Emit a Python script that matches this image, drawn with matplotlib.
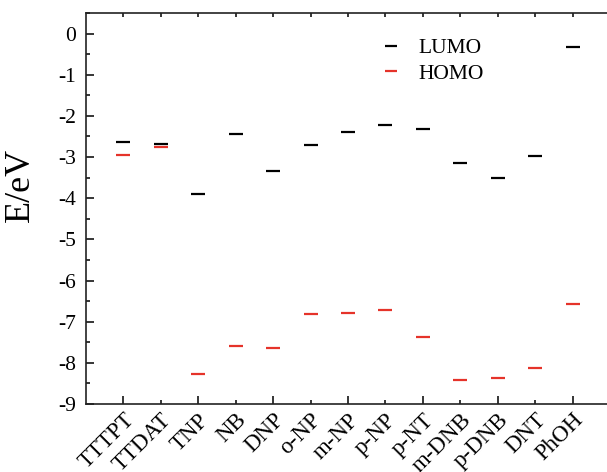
import matplotlib
matplotlib.use("Agg")
import matplotlib.pyplot as plt
import numpy as np

categories = ["TTTPT", "TTDAT", "TNP", "NB", "DNP", "o-NP", "m-NP", "p-NP",
              "p-NT", "m-DNB", "p-DNB", "DNT", "PhOH"]
lumo = [-2.63, -2.69, -3.90, -2.43, -3.33, -2.71, -2.40, -2.23, -2.32, -3.14, -3.50, -2.98, -0.33]
homo = [-2.95, -2.76, -8.28, -7.60, -7.64, -6.81, -6.79, -6.72, -7.37, -8.42, -8.37, -8.12, -6.57]
yticks = list(range(0, -10, -1))

plt.rcParams['font.family'] = ['Liberation Serif', 'DejaVu Serif']

fig = plt.figure(figsize=(6.07, 4.72), dpi=100)
W, H = 607, 472
ax = fig.add_axes([86 / W, (H - 404) / H, (610 - 86) / W, (404 - 13) / H])

x = np.arange(len(categories))
red = '#e5332a'
ax.plot(x, lumo, linestyle='none', marker='_', markersize=10, mew=1.6,
        color='black', label='LUMO')
ax.plot(x, homo, linestyle='none', marker='_', markersize=10, mew=1.6,
        color=red, label='HOMO')

ax.set_xlim(-1, 13)
ax.set_ylim(-9, 0.5)
ax.set_yticks(yticks)
ax.set_yticklabels([str(v) if v == 0 else '-' + str(-v) for v in yticks], fontsize=15.5)
ax.set_yticks(np.arange(-9, 0.51, 0.5), minor=True)
ax.set_xticks(x)
ax.set_xticklabels(categories, rotation=45, ha='right', rotation_mode='anchor', fontsize=16.5)

ax.tick_params(axis='both', which='major', direction='in', length=6, width=1.1,
               top=True, right=False)
ax.tick_params(axis='y', which='major', pad=7)
ax.tick_params(axis='y', which='minor', direction='in', length=3, width=1.1, right=False)
ax.tick_params(axis='x', which='major', pad=4)

for i, t in enumerate(ax.xaxis.get_major_ticks()):
    if i % 2 == 1:
        t.tick1line.set_markersize(3)
    t.tick2line.set_markersize(3)

for s in ax.spines.values():
    s.set_linewidth(1.2)
    s.set_color('#222222')

ax.set_ylabel('E/eV', fontsize=26)
ax.yaxis.set_label_coords(-0.093, 0.56)

leg = ax.legend(loc='upper left', bbox_to_anchor=(0.52, 0.985), frameon=False,
                fontsize=15.5, markerscale=0.8, handlelength=1.2, handletextpad=0.7,
                labelspacing=0.25)

fig.savefig('out.png', dpi=100)
